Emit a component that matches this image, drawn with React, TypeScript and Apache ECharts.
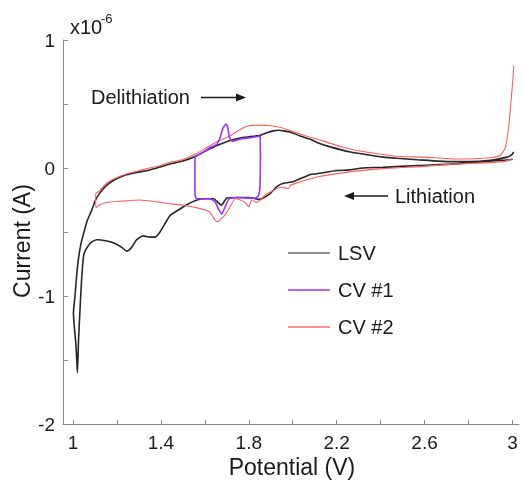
import React, { useEffect, useRef } from "react";
import * as echarts from "echarts";

// Potential in V, current in units of 1e-6 A

const lsvPotential = [
  3.0, 2.99, 2.87, 2.72, 2.57, 2.41, 2.32, 2.26, 2.2, 2.11, 2.08, 2.004, 1.958, 1.928, 1.897, 1.87, 1.85,
  1.8, 1.75, 1.7, 1.675, 1.66, 1.64, 1.6, 1.564, 1.52, 1.487, 1.442, 1.427, 1.396, 1.374, 1.351, 1.32,
  1.29, 1.267, 1.245, 1.222, 1.191, 1.154, 1.108, 1.077, 1.05, 1.04, 1.032, 1.025, 1.02, 1.014, 1.008,
  1.004, 1.002, 1.006, 1.009, 1.016, 1.024, 1.035, 1.05, 1.065, 1.085, 1.1, 1.12, 1.15, 1.182, 1.23,
  1.29, 1.35, 1.4, 1.45, 1.5, 1.548, 1.6, 1.655, 1.715, 1.76, 1.806, 1.852, 1.882, 1.912, 1.935, 1.96,
  1.99, 2.034, 2.08, 2.11, 2.171, 2.262, 2.353, 2.414, 2.475, 2.566, 2.717, 2.8, 2.9, 2.976, 2.995, 3.006,
];
const lsvCurrent = [
  0.07, 0.065, 0.05, 0.03, 0.02, 0.005, 0.0, -0.015, -0.02, -0.045, -0.05, -0.105, -0.12, -0.145, -0.2, -0.23, -0.245,
  -0.23, -0.23, -0.235, -0.29, -0.27, -0.24, -0.24, -0.25, -0.285, -0.32, -0.37, -0.41, -0.5, -0.54, -0.54, -0.53,
  -0.56, -0.62, -0.65, -0.62, -0.59, -0.57, -0.56, -0.59, -0.67, -0.85, -1.1, -1.35, -1.6, -1.4, -1.28,
  -1.2, -1.13, -1.05, -1.0, -0.85, -0.72, -0.6, -0.5, -0.41, -0.33, -0.26, -0.2, -0.14, -0.1, -0.06,
  -0.035, -0.015, 0.01, 0.035, 0.055, 0.084, 0.13, 0.175, 0.215, 0.235, 0.245, 0.255, 0.275, 0.29, 0.295, 0.29,
  0.28, 0.25, 0.225, 0.2, 0.165, 0.125, 0.1, 0.085, 0.076, 0.065, 0.05, 0.05, 0.06, 0.085, 0.1, 0.125,
];

const cv1Potential = [
  1.852, 1.853, 1.852, 1.849, 1.843, 1.83, 1.8, 1.746, 1.72, 1.708, 1.692, 1.677, 1.662, 1.647, 1.624,
  1.58, 1.564, 1.557, 1.555, 1.555, 1.556, 1.59, 1.624, 1.655, 1.67, 1.682, 1.697, 1.704, 1.712, 1.723,
  1.75, 1.776, 1.82, 1.852,
];
const cv1Current = [
  0.25, 0.1, -0.1, -0.18, -0.22, -0.235, -0.235, -0.23, -0.235, -0.245, -0.305, -0.36, -0.32, -0.265, -0.24,
  -0.24, -0.24, -0.225, -0.15, 0.0, 0.088, 0.12, 0.16, 0.185, 0.24, 0.31, 0.344, 0.32, 0.24, 0.21,
  0.22, 0.23, 0.24, 0.25,
];

const cv2Potential = [
  3.0, 2.96, 2.87, 2.72, 2.57, 2.41, 2.26, 2.11, 2.05, 1.989, 1.981, 1.943, 1.912, 1.875, 1.85, 1.834,
  1.814, 1.8, 1.785, 1.761, 1.738, 1.715, 1.69, 1.655, 1.64, 1.62, 1.548, 1.5, 1.442, 1.381, 1.305,
  1.214, 1.154, 1.12, 1.105, 1.103, 1.104, 1.123, 1.145, 1.169, 1.2, 1.245, 1.29, 1.336, 1.4, 1.442,
  1.487, 1.548, 1.6, 1.639, 1.68, 1.715, 1.746, 1.775, 1.8, 1.85, 1.9, 1.95, 1.973, 2.034, 2.08, 2.14,
  2.231, 2.3, 2.353, 2.475, 2.596, 2.748, 2.9, 2.945, 2.968, 2.983, 2.994, 3.003, 3.006,
];
const cv2Current = [
  0.07, 0.05, 0.04, 0.03, 0.01, -0.005, -0.03, -0.07, -0.1, -0.135, -0.16, -0.15, -0.175, -0.21, -0.255, -0.27,
  -0.25, -0.305, -0.27, -0.25, -0.24, -0.305, -0.37, -0.42, -0.39, -0.34, -0.305, -0.29, -0.28, -0.265, -0.25,
  -0.26, -0.27, -0.29, -0.31, -0.26, -0.2, -0.175, -0.13, -0.1, -0.075, -0.045, -0.025, -0.005, 0.02, 0.045,
  0.06, 0.1, 0.15, 0.19, 0.225, 0.25, 0.285, 0.315, 0.33, 0.335, 0.33, 0.315, 0.3, 0.265, 0.24, 0.21,
  0.16, 0.135, 0.12, 0.092, 0.085, 0.07, 0.08, 0.1, 0.16, 0.32, 0.53, 0.71, 0.8,
];

const xTicks = [1, 1.2, 1.4, 1.6, 1.8, 2, 2.2, 2.4, 2.6, 2.8, 3];
const xLabels = [1, 1.4, 1.8, 2.2, 2.6, 3];
const yLabels = [-2, -1, 0, 1];

const seriesNames = ["LSV", "CV #1", "CV #2"];

const FONT = "'Liberation Sans', Arial, sans-serif";

const zip = (xs: number[], ys: number[]) => xs.map((x, i) => [x, ys[i]]);

export default function App() {
  const ref = useRef<HTMLDivElement>(null);

  useEffect(() => {
    if (!ref.current) return;
    const chart = echarts.init(ref.current, null, { renderer: "svg" });

    const textStyle = (size: number) => ({ fontFamily: FONT, fontSize: size, fill: "#1a1a1a" });

    chart.setOption({
      animation: false,
      grid: { left: 63, right: 4, top: 40, bottom: 61, containLabel: false },
      xAxis: {
        type: "value",
        min: 0.9544,
        max: 3.03,
        axisLine: { show: true, onZero: false, lineStyle: { color: "#8a8a8a", width: 1 } },
        axisTick: { show: true, inside: true, length: 4, customValues: xTicks, lineStyle: { color: "#8a8a8a" } },
        axisLabel: {
          customValues: xLabels,
          formatter: (v: number) => String(+v.toFixed(2)),
          color: "#1a1a1a",
          fontFamily: FONT,
          fontSize: 19,
          margin: 9,
        },
        splitLine: { show: false },
      },
      yAxis: {
        type: "value",
        min: -2,
        max: 1,
        interval: 0.5,
        axisLine: { show: true, onZero: false, lineStyle: { color: "#8a8a8a", width: 1 } },
        axisTick: { show: true, inside: true, length: 5, lineStyle: { color: "#8a8a8a" } },
        axisLabel: {
          customValues: yLabels,
          formatter: (v: number) => String(v),
          color: "#1a1a1a",
          fontFamily: FONT,
          fontSize: 19,
          margin: 8,
          padding: [6, 0, 0, 0],
        },
        splitLine: { show: false },
      },
      legend: {
        data: seriesNames,
        orient: "vertical",
        left: 283,
        top: 238,
        icon: "rect",
        itemWidth: 42,
        itemHeight: 1.6,
        itemGap: 17,
        textStyle: { fontFamily: FONT, fontSize: 20, color: "#1a1a1a", lineHeight: 20, padding: [0, 0, 0, 3] },
        selectedMode: false,
      },
      series: [
        {
          name: "LSV",
          type: "line",
          data: zip(lsvPotential, lsvCurrent),
          symbol: "none",
          smooth: 0.2,
          lineStyle: { color: "#262626", width: 1.6 },
          itemStyle: { color: "#6a6a6a" },
          silent: true,
        },
        {
          name: "CV #2",
          type: "line",
          data: zip(cv2Potential, cv2Current),
          symbol: "none",
          smooth: 0.2,
          lineStyle: { color: "#ff5f5f", width: 1.1 },
          itemStyle: { color: "#ff6b6b" },
          silent: true,
        },
        {
          name: "CV #1",
          type: "line",
          data: zip(cv1Potential, cv1Current),
          symbol: "none",
          smooth: 0.15,
          lineStyle: { color: "#9b30ff", width: 1.6 },
          itemStyle: { color: "#9b30ff" },
          silent: true,
        },
      ],
      graphic: [
        {
          type: "text",
          x: 22,
          y: 241,
          rotation: Math.PI / 2,
          style: { ...textStyle(23), text: "Current (A)", textAlign: "center", textVerticalAlign: "middle" },
        },
        {
          type: "text",
          x: 292,
          y: 467,
          style: { ...textStyle(23), text: "Potential (V)", textAlign: "center", textVerticalAlign: "middle" },
        },
        {
          type: "text",
          x: 70,
          y: 27,
          style: { ...textStyle(20), text: "x10", textAlign: "left", textVerticalAlign: "middle" },
        },
        {
          type: "text",
          x: 101,
          y: 18,
          style: { ...textStyle(13), text: "-6", textAlign: "left", textVerticalAlign: "middle" },
        },
        {
          type: "text",
          x: 91,
          y: 97,
          style: { ...textStyle(20), text: "Delithiation", textAlign: "left", textVerticalAlign: "middle" },
        },
        {
          type: "line",
          shape: { x1: 201, y1: 97.5, x2: 238, y2: 97.5 },
          style: { stroke: "#1a1a1a", lineWidth: 1.5 },
        },
        {
          type: "polygon",
          shape: { points: [[246, 97.5], [236, 93.5], [236, 101.5]] },
          style: { fill: "#1a1a1a" },
        },
        {
          type: "text",
          x: 395,
          y: 196,
          style: { ...textStyle(20), text: "Lithiation", textAlign: "left", textVerticalAlign: "middle" },
        },
        {
          type: "line",
          shape: { x1: 352, y1: 196, x2: 388, y2: 196 },
          style: { stroke: "#1a1a1a", lineWidth: 1.5 },
        },
        {
          type: "polygon",
          shape: { points: [[344, 196], [354, 192], [354, 200]] },
          style: { fill: "#1a1a1a" },
        },
      ],
    });

    return () => chart.dispose();
  }, []);

  return <div ref={ref} style={{ position: "fixed", left: 0, top: 0, width: 523, height: 485 }} />;
}
